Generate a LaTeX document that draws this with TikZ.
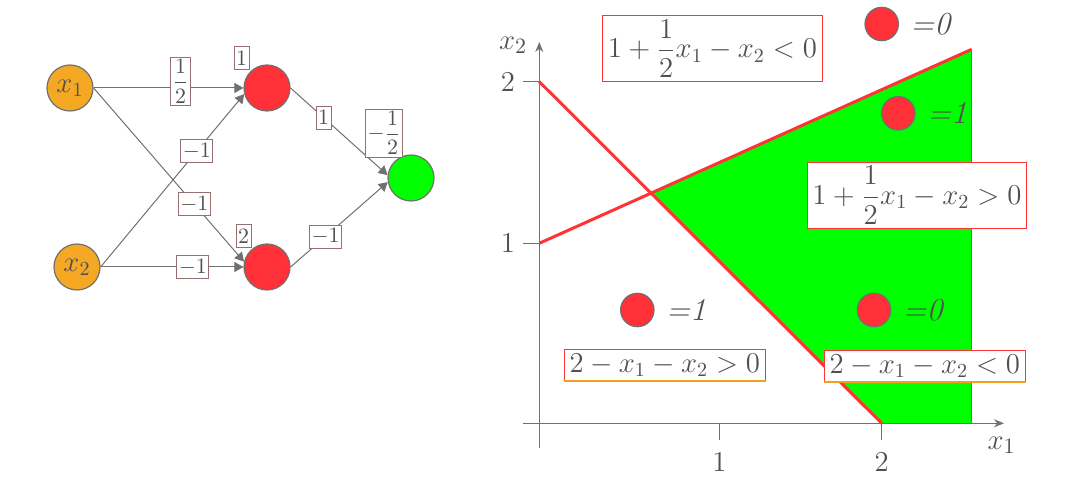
\documentclass[tikz,border=0pt]{standalone}
\usepackage{amsmath}
\usepackage{tikz}
\usepackage{xcolor}
\usetikzlibrary{arrows.meta, positioning}
\definecolor{cText}{RGB}{80,80,80}
\definecolor{cLine}{RGB}{112,112,112}
\definecolor{cInput}{RGB}{245,168,36}
\definecolor{cHidden}{RGB}{255,48,56}
\definecolor{cOut}{RGB}{0,255,0}
\definecolor{cBox}{RGB}{150,112,112}
\definecolor{cRed}{RGB}{255,51,51}
\definecolor{cOrange}{RGB}{240,160,30}
\tikzset{
	neuron/.style   ={circle, draw=cLine, line width=0.6pt, minimum size=23pt, inner sep=0pt, text=cText, font=\fontsize{14}{16}\selectfont},
	inneuron/.style ={neuron, fill=cInput},
	hidneuron/.style={neuron, fill=cHidden},
	outneuron/.style={neuron, fill=cOut},
	wlabel/.style   ={rectangle, draw=cBox, line width=0.4pt, fill=white, text=cText, inner xsep=1pt, inner ysep=1pt, minimum height=11.5pt, font=\fontsize{10.5}{12}\selectfont},
	syn/.style      ={-{Triangle[length=4.5pt, width=5pt]}, draw=cLine, line width=0.5pt},
	% decision plot styles
	eqbox/.style    ={rectangle, draw=cRed, line width=0.5pt, fill=white, text=cText, inner xsep=2.5pt, inner ysep=2pt, font=\fontsize{14.5}{17}\selectfont},
	pdot/.style     ={circle, draw=cLine, line width=0.6pt, fill=cHidden, minimum size=16.7pt, inner sep=0pt},
	outval/.style   ={text=cText, font=\fontsize{16}{18}\selectfont\itshape, inner sep=1pt},
	axisline/.style ={draw=cLine, line width=0.7pt},
	ticklabel/.style={text=cText, font=\fontsize{14}{16}\selectfont},
	axlabel/.style  ={text=cText, font=\fontsize{15}{17}\selectfont},
	boundary/.style ={draw=cRed, line width=1.5pt},
}
\begin{document}
\begin{tikzpicture}[x=0.5pt, y=-0.5pt]
	\useasboundingbox (0,0) rectangle (1078,480);
	% network
	\node[inneuron] (x1) at (70,88) {$x_1$};
	\node[inneuron] (x2) at (77,267) {$x_2$};
	\node[hidneuron] (h1) at (267,88) {};
	\node[hidneuron] (h2) at (267,267) {};
	\node[outneuron] (out) at (411,178) {};
	\draw[syn] (x1.east) -- node[wlabel, pos=0.58, yshift=3.3pt] {$\dfrac{1}{2}$} (h1.west);
	\draw[syn] (x1.east) -- node[wlabel, pos=0.67] {$-1$} (h2.167);
	\draw[syn] (x2.east) -- node[wlabel, pos=0.67] {$-1$} (h1.195);
	\draw[syn] (x2.east) -- node[wlabel, pos=0.646] {$-1$} (h2.west);
	\draw[syn] (h1.east) -- node[wlabel, pos=0.34] {$1$} (out.173);
	\draw[syn] (h2.east) -- node[wlabel, pos=0.36] {$-1$} (out.190);
	\node[wlabel] (b1) at (241.5,58) {$1$};
	\node[wlabel] (b2) at (243.5,236) {$2$};
	\node[wlabel] (bout) at (384,133) {$-\dfrac{1}{2}$};
	% decision regions
	\fill[cOut] (651,193.1) -- (971.7,49.3) -- (971.7,423.3) -- (881.7,423.3) -- cycle;
	\draw[cLine, line width=0.6pt] (971.7,49.3) -- (971.7,423.3);
	\draw[axisline, -{Stealth[length=5pt, width=4pt]}] (523,423.3) -- (1004,423.3);
	\draw[axisline, -{Stealth[length=5pt, width=4pt]}] (539.3,448) -- (539.3,42);
	\draw[axisline] (523,81.7) -- (539.3,81.7); \draw[axisline] (523,243.3) -- (539.3,243.3);
	\draw[axisline] (719.3,423.3) -- (719.3,440); \draw[axisline] (881.7,423.3) -- (881.7,440);
	\node[ticklabel] (ty2) at (508,82) {$2$};
	\node[ticklabel] (ty1) at (508,243) {$1$};
	\node[ticklabel] (tx1) at (719.3,462) {$1$};
	\node[ticklabel] (tx2) at (881.7,462) {$2$};
	\node[axlabel] (lx2) at (513,45) {$x_2$};
	\node[axlabel] (lx1) at (1001.7,445) {$x_1$};
	\draw[boundary] (539.3,81.7) -- (881.7,423.3);
	\draw[boundary] (539.3,243.3) -- (971.7,49.3);
	\node[eqbox] (ineqA) at (712.5,48.7) {$1+\dfrac{1}{2}x_1-x_2<0$};
	\node[eqbox] (ineqB) at (917,195.3) {$1+\dfrac{1}{2}x_1-x_2>0$};
	\node[eqbox] (ineqC) at (664.8,365.3) {$2-x_1-x_2>0$};
	\node[eqbox] (ineqD) at (924.8,366.2) {$2-x_1-x_2<0$};
	\draw[cOrange, line width=1pt] (ineqC.south west) -- (ineqC.south east);
	\draw[cOrange, line width=1pt] (ineqD.south west) -- (ineqD.south east);
	% sample points
	\node[pdot] (ptTop) at (881.7,24) {};
	\node[outval, right=4.5pt of ptTop] (vTop) {=0};
	\node[pdot] (ptUpper) at (898.3,113.3) {};
	\node[outval, right=4.5pt of ptUpper] (vUpper) {=1};
	\node[pdot] (ptLeft) at (637.3,310) {};
	\node[outval, right=4.5pt of ptLeft] (vLeft) {=1};
	\node[pdot] (ptRight) at (874,310) {};
	\node[outval, right=4.5pt of ptRight] (vRight) {=0};
\end{tikzpicture}
\end{document}
